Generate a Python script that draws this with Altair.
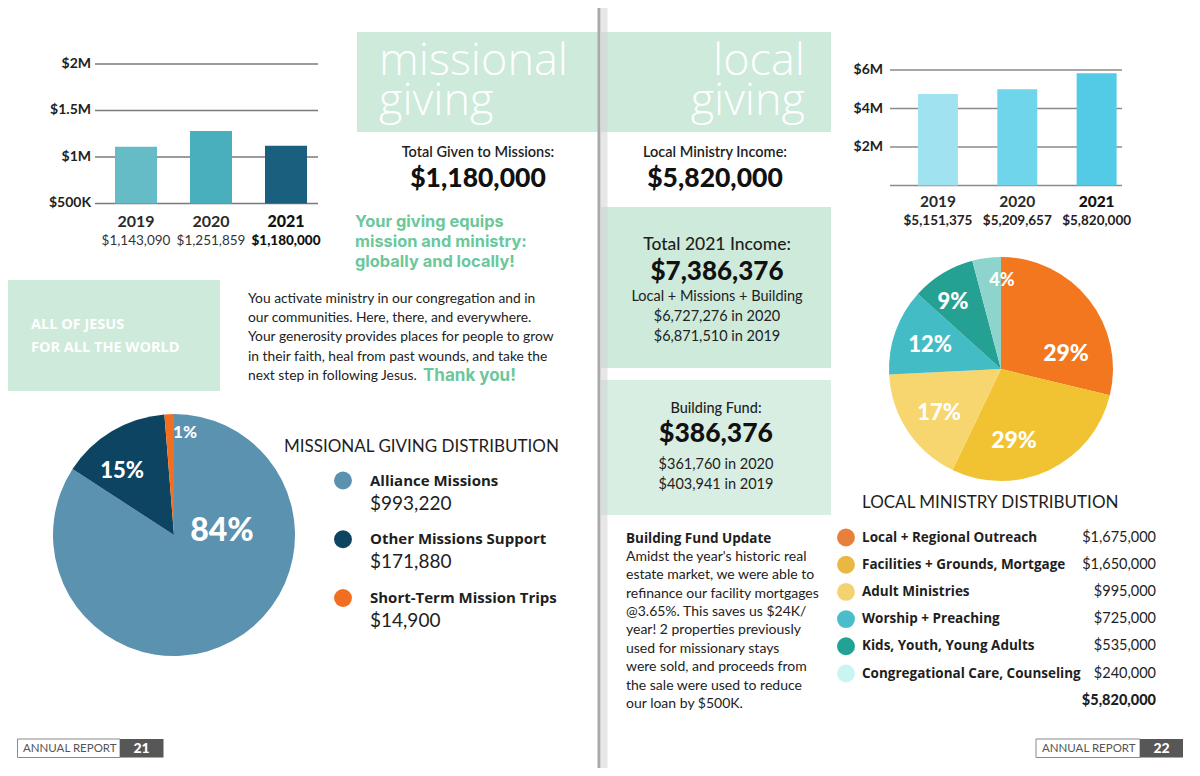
import altair as alt
import pandas as pd

W, H = 1184, 760
OX, OY = 8, 8


def X(v):
    return v - OX


def Y(v):
    return v - OY


FONT = "Lato"
GFONT = "Open Sans"
WFONT = "Inter"
MINT = "#cdeadb"
MINT2 = "#d8eee2"
GREEN = "#6cc79b"
DARK = "#1e1e1e"

# ---------------- data ----------------
years = ["2019", "2020", "2021"]

mission_bar_values = [1110000, 1278000, 1120000]
mission_value_labels = ["$1,143,090", "$1,251,859", "$1,180,000"]
mission_ticks = [500000, 1000000, 1500000, 2000000]
mission_tick_labels = ["$500K", "$1M", "$1.5M", "$2M"]
mission_bar_colors = ["#65bcc6", "#4aafbd", "#1b5f7f"]

local_bar_values = [4750000, 5000000, 5830000]
local_value_labels = ["$5,151,375", "$5,209,657", "$5,820,000"]
local_ticks = [0, 2000000, 4000000, 6000000]
local_tick_labels = ["", "$2M", "$4M", "$6M"]
local_bar_colors = ["#a0e2ef", "#6ed5eb", "#53cbe6"]

mission_categories = ["Alliance Missions", "Other Missions Support", "Short-Term Mission Trips"]
mission_amounts = [993220, 171880, 14900]
mission_amount_labels = ["$993,220", "$171,880", "$14,900"]
mission_pcts = ["84%", "15%", "1%"]
mission_colors = ["#5b92b0", "#0d4462", "#f26f21"]

local_categories = [
    "Local + Regional Outreach",
    "Facilities + Grounds, Mortgage",
    "Adult Ministries",
    "Worship + Preaching",
    "Kids, Youth, Young Adults",
    "Congregational Care, Counseling",
]
local_amounts = [1675000, 1650000, 995000, 725000, 535000, 240000]
local_amount_labels = ["$1,675,000", "$1,650,000", "$995,000", "$725,000", "$535,000", "$240,000"]
local_total_label = "$5,820,000"
local_pcts = ["29%", "29%", "17%", "12%", "9%", "4%"]
local_slice_colors = ["#f2771f", "#f1c232", "#f8d66f", "#44bcc6", "#25a194", "#8dd5cc"]
local_dot_colors = ["#e8803c", "#e9b843", "#f3d272", "#4bbdca", "#22a295", "#c8f5f2"]

title_left = "missional\ngiving"
title_right = "local\ngiving"
paragraph_lines = [
    "You activate ministry in our congregation and in",
    "our communities. Here, there, and everywhere.",
    "Your generosity provides places for people to grow",
    "in their faith, heal from past wounds, and take the",
    "next step in following Jesus.",
]
green_lines = ["Your giving equips", "mission and ministry:", "globally and locally!"]
update_lines = [
    "Amidst the year's historic real",
    "estate market, we were able to",
    "refinance our facility mortgages",
    "@3.65%. This saves us $24K/",
    "year! 2 properties previously",
    "used for missionary stays",
    "were sold, and proceeds from",
    "the sale were used to reduce",
    "our loan by $500K.",
]


# ---------------- helpers ----------------
def text(s, x, y, size, weight="normal", color=DARK, align="left", font=FONT, baseline="middle", **kw):
    return alt.Chart(alt.Data(values=[{"t": s}])).mark_text(
        x=X(x), y=Y(y), fontSize=size, fontWeight=weight, color=color,
        align=align, baseline=baseline, font=font, **kw
    ).encode(text="t:N")


def rect(x1, y1, x2, y2, color, opacity=1.0, stroke=None):
    kw = dict(fill=color, opacity=opacity)
    if stroke:
        kw.update(stroke=stroke, strokeWidth=1)
    return alt.Chart(alt.Data(values=[{}])).mark_rect(**kw).encode(
        x=alt.value(X(x1)), x2=alt.value(X(x2)), y=alt.value(Y(y1)), y2=alt.value(Y(y2))
    )


layers = []

# ---------------- backgrounds ----------------
layers += [
    rect(357, 32, 598, 132, MINT),
    rect(601, 32, 831, 132, MINT),
    rect(601, 207, 831, 368, MINT),
    rect(601, 380, 831, 515, MINT2),
    rect(8, 280, 220, 391, MINT),
]

# ---------------- mission bar chart ----------------
mdf = pd.DataFrame({"year": years, "value": mission_bar_values, "label": mission_value_labels})
mtk = pd.DataFrame({"v": mission_ticks, "lab": mission_tick_labels})
m_x = alt.X("year:N", axis=None, scale=alt.Scale(type="band", domain=years, range=[X(98.5), X(323.5)],
                                                 paddingInner=0.44, paddingOuter=0.22))
m_ys = alt.Scale(type="linear", domain=[500000, 2000000], range=[Y(203.4), Y(63.9)], zero=False, nice=False)
m_grid = alt.Chart(mtk).mark_rule(color="#7a7a7a", strokeWidth=1.5).encode(
    y=alt.Y("v:Q", scale=m_ys, axis=None), x=alt.value(X(95)), x2=alt.value(X(318)))
m_bars = alt.Chart(mdf).mark_bar().encode(
    x=m_x, y=alt.Y("value:Q", scale=m_ys, axis=None), y2=alt.datum(500000),
    color=alt.Color("year:N", scale=alt.Scale(domain=years, range=mission_bar_colors), legend=None))
m_tick_text = alt.Chart(mtk).mark_text(x=X(91), align="right", baseline="middle", font=FONT, fontSize=14,
                                       fontWeight="bold", color=DARK).encode(
    y=alt.Y("v:Q", scale=m_ys, axis=None), text="lab:N")
m_year = alt.Chart(mdf).transform_filter("datum.year != '2021'").mark_text(
    y=Y(221.5), font=FONT, fontSize=16, fontWeight="bold", color="#2a2a2a", baseline="middle").encode(
    x=m_x, text="year:N")
m_year21 = alt.Chart(mdf).transform_filter("datum.year == '2021'").mark_text(
    y=Y(221.5), font=FONT, fontSize=16, fontWeight=900, color="#111", baseline="middle").encode(
    x=m_x, text="year:N")
m_val = alt.Chart(mdf).transform_filter("datum.year != '2021'").mark_text(
    y=Y(240.5), font=FONT, fontSize=13.5, color="#333", baseline="middle").encode(x=m_x, text="label:N")
m_val21 = alt.Chart(mdf).transform_filter("datum.year == '2021'").mark_text(
    y=Y(240.5), font=FONT, fontSize=13.5, fontWeight=900, color="#111", baseline="middle").encode(
    x=m_x, text="label:N")
layers.append(alt.layer(m_grid, m_bars, m_tick_text, m_year, m_year21, m_val, m_val21))

# ---------------- local bar chart ----------------
ldf = pd.DataFrame({"year": years, "value": local_bar_values, "label": local_value_labels})
ltk = pd.DataFrame({"v": local_ticks, "lab": local_tick_labels})
l_x = alt.X("year:N", axis=None, scale=alt.Scale(type="band", domain=years, range=[X(898.3), X(1136.3)],
                                                 paddingInner=0.496, paddingOuter=0.248))
l_ys = alt.Scale(type="linear", domain=[0, 6000000], range=[Y(185.5), Y(70)], zero=False, nice=False)
l_grid = alt.Chart(ltk).mark_rule(color="#8a8a8a", strokeWidth=1.5).encode(
    y=alt.Y("v:Q", scale=l_ys, axis=None), x=alt.value(X(890)), x2=alt.value(X(1122)))
l_bars = alt.Chart(ldf).mark_bar().encode(
    x=l_x, y=alt.Y("value:Q", scale=l_ys, axis=None), y2=alt.datum(0),
    color=alt.Color("year:N", scale=alt.Scale(domain=years, range=local_bar_colors), legend=None))
l_tick_text = alt.Chart(ltk).mark_text(x=X(883), align="right", baseline="middle", font=FONT, fontSize=14,
                                       fontWeight="bold", color=DARK).encode(
    y=alt.Y("v:Q", scale=l_ys, axis=None), text="lab:N")
l_year = alt.Chart(ldf).transform_filter("datum.year != '2021'").mark_text(
    y=Y(201.5), font=FONT, fontSize=15.5, fontWeight="bold", color="#2a2a2a", baseline="middle").encode(
    x=l_x, text="year:N")
l_year21 = alt.Chart(ldf).transform_filter("datum.year == '2021'").mark_text(
    y=Y(201.5), font=FONT, fontSize=15.5, fontWeight=900, color="#111", baseline="middle").encode(
    x=l_x, text="year:N")
l_val = alt.Chart(ldf).mark_text(
    y=Y(220.5), font=FONT, fontSize=13.5, fontWeight="bold", color="#222", baseline="middle").encode(
    x=l_x, text="label:N")
layers.append(alt.layer(l_grid, l_bars, l_tick_text, l_year, l_year21, l_val))

# ---------------- mission pie ----------------
mpdf = pd.DataFrame({"cat": mission_categories, "amount": mission_amounts, "k": [0, 1, 2]})
m_color = alt.Scale(domain=mission_categories, range=mission_colors)
layers.append(alt.Chart(mpdf).mark_arc(radius=121).encode(
    theta=alt.Theta("amount:Q", stack=True),
    color=alt.Color("cat:N", scale=m_color, legend=None),
    order=alt.Order("k:Q"),
    x=alt.value(X(174)), y=alt.value(Y(535))))

# ---------------- local pie ----------------
lpdf = pd.DataFrame({"cat": local_categories, "amount": local_amounts, "k": list(range(6))})
l_color = alt.Scale(domain=local_categories, range=local_slice_colors)
layers.append(alt.Chart(lpdf).mark_arc(radius=112).encode(
    theta=alt.Theta("amount:Q", stack=True),
    color=alt.Color("cat:N", scale=l_color, legend=None),
    order=alt.Order("k:Q"),
    x=alt.value(X(1001)), y=alt.value(Y(369))))

# pie labels
layers += [
    text(mission_pcts[0], 222, 531, 32, 900, "white", "center"),
    text(mission_pcts[1], 122, 471, 22, 900, "white", "center"),
    text(mission_pcts[2], 185, 433, 17, 900, "white", "center"),
    text(local_pcts[0], 1066, 354, 23, 900, "white", "center"),
    text(local_pcts[1], 1014, 441, 23, 900, "white", "center"),
    text(local_pcts[2], 939, 413, 22, 900, "white", "center"),
    text(local_pcts[3], 930, 345, 22, 900, "white", "center"),
    text(local_pcts[4], 953, 302, 22, 900, "white", "center"),
    text(local_pcts[5], 1002, 281, 18, 900, "white", "center"),
]

# ---------------- mission legend ----------------
mldf = pd.DataFrame({"cat": mission_categories, "amt": mission_amount_labels})
ml_y = alt.Y("cat:N", axis=None, scale=alt.Scale(type="point", domain=mission_categories,
                                                 range=[Y(480.5), Y(598)], padding=0))
layers.append(alt.layer(
    alt.Chart(mldf).mark_circle(size=320, opacity=1).encode(
        y=ml_y, x=alt.value(X(343)), color=alt.Color("cat:N", scale=m_color, legend=None)),
    alt.Chart(mldf).mark_text(x=X(370), align="left", baseline="middle", font=GFONT, fontSize=15,
                              fontWeight="bold", color=DARK).encode(y=ml_y, text="cat:N"),
    alt.Chart(mldf).mark_text(x=X(370), dy=23, align="left", baseline="middle", font=FONT, fontSize=19,
                              color=DARK).encode(y=ml_y, text="amt:N"),
))
layers.append(text("MISSIONAL GIVING DISTRIBUTION", 284, 447, 17, "normal", DARK))

# ---------------- local legend ----------------
lldf = pd.DataFrame({"cat": local_categories, "amt": local_amount_labels})
ll_y = alt.Y("cat:N", axis=None, scale=alt.Scale(type="point", domain=local_categories,
                                                 range=[Y(537.5), Y(673.5)], padding=0))
layers.append(alt.layer(
    alt.Chart(lldf).mark_circle(size=320, opacity=1).encode(
        y=ll_y, x=alt.value(X(846)),
        color=alt.Color("cat:N", scale=alt.Scale(domain=local_categories, range=local_dot_colors), legend=None)),
    alt.Chart(lldf).mark_text(x=X(862), align="left", baseline="middle", font=GFONT, fontSize=13.5,
                              fontWeight="bold", color=DARK).encode(y=ll_y, text="cat:N"),
    alt.Chart(lldf).mark_text(x=X(1156), align="right", baseline="middle", font=FONT, fontSize=14.5,
                              color=DARK).encode(y=ll_y, text="amt:N"),
))
layers += [
    text("LOCAL MINISTRY DISTRIBUTION", 862, 502.5, 17, "normal", DARK),
    text(local_total_label, 1156, 701, 14.5, 900, DARK, "right"),
]

# ---------------- titles ----------------
layers += [
    text(title_left, 379, 75, 45, 300, "white", "left", GFONT, "alphabetic", lineBreak="\n", lineHeight=40),
    text(title_right, 805, 75, 45, 300, "white", "right", GFONT, "alphabetic", lineBreak="\n", lineHeight=40),
    text("Total Given to Missions:", 478, 153, 14.5, 600, DARK, "center"),
    text("$1,180,000", 478, 179, 26.5, 900, "#111", "center"),
    text("Local Ministry Income:", 715, 153, 14.5, 600, DARK, "center"),
    text("$5,820,000", 715, 179, 26.5, 900, "#111", "center"),
]
for i, s in enumerate(green_lines):
    layers.append(text(s, 355, 221.5 + 20.2 * i, 16.4, "bold", GREEN, "left", WFONT))

# ---------------- left box & paragraph ----------------
layers += [
    text("ALL OF JESUS", 31, 325, 14.5, "bold", "white", "left", GFONT),
    text("FOR ALL THE WORLD", 31, 348, 14.5, "bold", "white", "left", GFONT),
]
for i, s in enumerate(paragraph_lines):
    layers.append(text(s, 248, 298.5 + 19.4 * i, 13.8, "normal", "#222"))
layers.append(text("Thank you!", 423, 376, 17, "bold", GREEN, "left", WFONT))

# ---------------- middle column ----------------
layers += [
    text("Total 2021 Income:", 717, 245, 17.5, 500, DARK, "center"),
    text("$7,386,376", 717, 272, 26, 900, "#111", "center"),
    text("Local + Missions + Building", 717, 296.5, 14.5, "normal", "#222", "center"),
    text("$6,727,276 in 2020", 717, 316.5, 14.5, "normal", "#222", "center"),
    text("$6,871,510 in 2019", 717, 336.5, 14.5, "normal", "#222", "center"),
    text("Building Fund:", 716, 409, 14.5, 500, DARK, "center"),
    text("$386,376", 716, 433.5, 26.5, 900, "#111", "center"),
    text("$361,760 in 2020", 716, 465, 14.5, "normal", "#222", "center"),
    text("$403,941 in 2019", 716, 485, 14.5, "normal", "#222", "center"),
    text("Building Fund Update", 626, 538.5, 13.5, "bold", DARK, "left", GFONT),
]
for i, s in enumerate(update_lines):
    layers.append(text(s, 626, 556.8 + 18.42 * i, 14, "normal", "#222"))

# ---------------- divider ----------------
layers += [
    rect(597.5, 8, 600.5, 768, "#a9a9a9"),
    rect(600.5, 8, 607.5, 768, "#d4d4d4", 0.55),
]

# ---------------- footers ----------------
layers += [
    rect(17.5, 739, 120, 757.5, "white", 1.0, "#8a8a8a"),
    rect(120, 739, 163.5, 757.5, "#575757"),
    text("ANNUAL REPORT", 23, 748.5, 11.5, "normal", "#555"),
    text("21", 141.5, 748.5, 14, 900, "white", "center"),
    rect(1036, 739, 1140, 757.5, "white", 1.0, "#8a8a8a"),
    rect(1140, 739, 1183, 757.5, "#575757"),
    text("ANNUAL REPORT", 1042, 748.5, 11.5, "normal", "#555"),
    text("22", 1161.5, 748.5, 14, 900, "white", "center"),
]

chart = alt.layer(*layers).resolve_scale(
    x="independent", y="independent", color="independent", theta="independent"
).properties(
    width=W, height=H, autosize=alt.AutoSizeParams(type="none"), padding=0, background="white"
).configure_view(stroke=None)

chart.save("out.html", embed_options={"renderer": "svg", "actions": False})
